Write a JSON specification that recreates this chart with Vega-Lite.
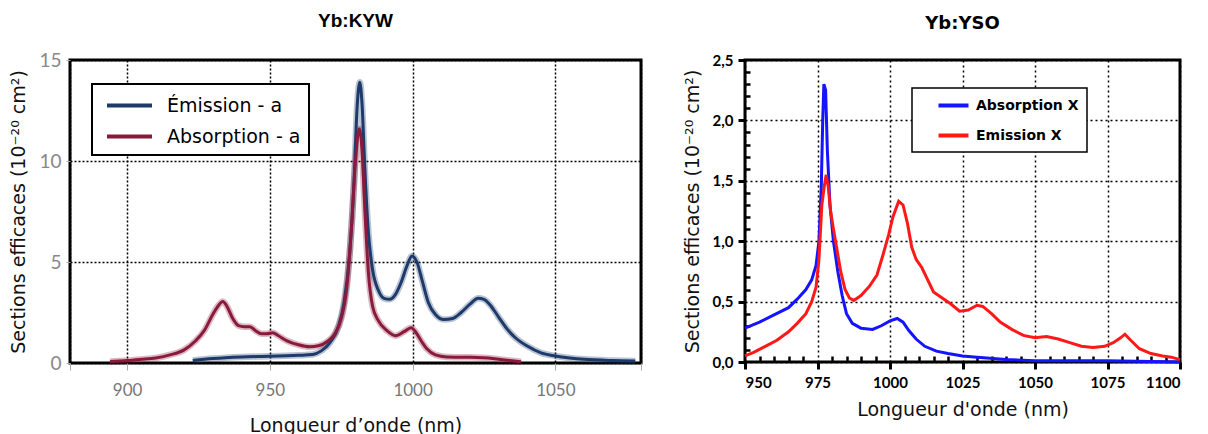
{
  "$schema": "https://vega.github.io/schema/vega-lite/v6.json",
  "padding": {"left": 8, "top": 10, "right": 4, "bottom": 0},
  "background": "white",
  "config": {
    "font": "Lato",
    "view": {"stroke": "black", "strokeWidth": 3},
    "axis": {"domain": false}
  },
  "spacing": 31,
  "resolve": {"scale": {"color": "independent"}, "legend": {"color": "independent"}},
  "datasets": {
    "kyw": [
      {"nm": 923, "v": 0.12, "s": "Émission - a"},
      {"nm": 930, "v": 0.22, "s": "Émission - a"},
      {"nm": 940, "v": 0.3, "s": "Émission - a"},
      {"nm": 950, "v": 0.33, "s": "Émission - a"},
      {"nm": 960, "v": 0.38, "s": "Émission - a"},
      {"nm": 965, "v": 0.42, "s": "Émission - a"},
      {"nm": 968, "v": 0.6, "s": "Émission - a"},
      {"nm": 971, "v": 1.0, "s": "Émission - a"},
      {"nm": 974, "v": 1.8, "s": "Émission - a"},
      {"nm": 976, "v": 3.0, "s": "Émission - a"},
      {"nm": 978, "v": 5.5, "s": "Émission - a"},
      {"nm": 979.5, "v": 9.0, "s": "Émission - a"},
      {"nm": 980.5, "v": 12.5, "s": "Émission - a"},
      {"nm": 981.5, "v": 13.9, "s": "Émission - a"},
      {"nm": 982.3, "v": 12.8, "s": "Émission - a"},
      {"nm": 983.3, "v": 9.5, "s": "Émission - a"},
      {"nm": 984.5, "v": 6.5, "s": "Émission - a"},
      {"nm": 986, "v": 4.6, "s": "Émission - a"},
      {"nm": 988, "v": 3.6, "s": "Émission - a"},
      {"nm": 990, "v": 3.2, "s": "Émission - a"},
      {"nm": 992, "v": 3.15, "s": "Émission - a"},
      {"nm": 994, "v": 3.4, "s": "Émission - a"},
      {"nm": 996, "v": 4.0, "s": "Émission - a"},
      {"nm": 998, "v": 4.8, "s": "Émission - a"},
      {"nm": 999.8, "v": 5.3, "s": "Émission - a"},
      {"nm": 1001.5, "v": 5.0, "s": "Émission - a"},
      {"nm": 1003.5, "v": 4.0, "s": "Émission - a"},
      {"nm": 1005.5, "v": 3.0, "s": "Émission - a"},
      {"nm": 1008, "v": 2.4, "s": "Émission - a"},
      {"nm": 1011, "v": 2.15, "s": "Émission - a"},
      {"nm": 1014, "v": 2.2, "s": "Émission - a"},
      {"nm": 1017, "v": 2.5, "s": "Émission - a"},
      {"nm": 1020, "v": 2.9, "s": "Émission - a"},
      {"nm": 1023, "v": 3.2, "s": "Émission - a"},
      {"nm": 1025, "v": 3.15, "s": "Émission - a"},
      {"nm": 1027, "v": 2.9, "s": "Émission - a"},
      {"nm": 1030, "v": 2.3, "s": "Émission - a"},
      {"nm": 1033, "v": 1.7, "s": "Émission - a"},
      {"nm": 1036, "v": 1.25, "s": "Émission - a"},
      {"nm": 1040, "v": 0.85, "s": "Émission - a"},
      {"nm": 1045, "v": 0.5, "s": "Émission - a"},
      {"nm": 1050, "v": 0.35, "s": "Émission - a"},
      {"nm": 1055, "v": 0.25, "s": "Émission - a"},
      {"nm": 1060, "v": 0.18, "s": "Émission - a"},
      {"nm": 1070, "v": 0.12, "s": "Émission - a"},
      {"nm": 1078, "v": 0.1, "s": "Émission - a"},
      {"nm": 894, "v": 0.08, "s": "Absorption - a"},
      {"nm": 900, "v": 0.12, "s": "Absorption - a"},
      {"nm": 905, "v": 0.18, "s": "Absorption - a"},
      {"nm": 910, "v": 0.25, "s": "Absorption - a"},
      {"nm": 915, "v": 0.4, "s": "Absorption - a"},
      {"nm": 920, "v": 0.65, "s": "Absorption - a"},
      {"nm": 924, "v": 1.1, "s": "Absorption - a"},
      {"nm": 927, "v": 1.6, "s": "Absorption - a"},
      {"nm": 930, "v": 2.4, "s": "Absorption - a"},
      {"nm": 932, "v": 2.85, "s": "Absorption - a"},
      {"nm": 933.5, "v": 3.05, "s": "Absorption - a"},
      {"nm": 935, "v": 2.8, "s": "Absorption - a"},
      {"nm": 937, "v": 2.2, "s": "Absorption - a"},
      {"nm": 939, "v": 1.85, "s": "Absorption - a"},
      {"nm": 941, "v": 1.8, "s": "Absorption - a"},
      {"nm": 943, "v": 1.8, "s": "Absorption - a"},
      {"nm": 945, "v": 1.6, "s": "Absorption - a"},
      {"nm": 947, "v": 1.45, "s": "Absorption - a"},
      {"nm": 949, "v": 1.45, "s": "Absorption - a"},
      {"nm": 951, "v": 1.5, "s": "Absorption - a"},
      {"nm": 953, "v": 1.35, "s": "Absorption - a"},
      {"nm": 956, "v": 1.1, "s": "Absorption - a"},
      {"nm": 960, "v": 0.9, "s": "Absorption - a"},
      {"nm": 964, "v": 0.8, "s": "Absorption - a"},
      {"nm": 967, "v": 0.85, "s": "Absorption - a"},
      {"nm": 970, "v": 1.05, "s": "Absorption - a"},
      {"nm": 973, "v": 1.5, "s": "Absorption - a"},
      {"nm": 975, "v": 2.2, "s": "Absorption - a"},
      {"nm": 977, "v": 3.8, "s": "Absorption - a"},
      {"nm": 978.5, "v": 6.5, "s": "Absorption - a"},
      {"nm": 980, "v": 10.0, "s": "Absorption - a"},
      {"nm": 981.3, "v": 11.6, "s": "Absorption - a"},
      {"nm": 982.3, "v": 10.5, "s": "Absorption - a"},
      {"nm": 983.3, "v": 7.5, "s": "Absorption - a"},
      {"nm": 984.5, "v": 4.5, "s": "Absorption - a"},
      {"nm": 986, "v": 2.8, "s": "Absorption - a"},
      {"nm": 988, "v": 2.1, "s": "Absorption - a"},
      {"nm": 991, "v": 1.6, "s": "Absorption - a"},
      {"nm": 994, "v": 1.35, "s": "Absorption - a"},
      {"nm": 997, "v": 1.55, "s": "Absorption - a"},
      {"nm": 999.5, "v": 1.75, "s": "Absorption - a"},
      {"nm": 1001, "v": 1.55, "s": "Absorption - a"},
      {"nm": 1003, "v": 1.1, "s": "Absorption - a"},
      {"nm": 1005, "v": 0.7, "s": "Absorption - a"},
      {"nm": 1008, "v": 0.4, "s": "Absorption - a"},
      {"nm": 1012, "v": 0.3, "s": "Absorption - a"},
      {"nm": 1020, "v": 0.28, "s": "Absorption - a"},
      {"nm": 1028, "v": 0.22, "s": "Absorption - a"},
      {"nm": 1034, "v": 0.12, "s": "Absorption - a"},
      {"nm": 1038, "v": 0.06, "s": "Absorption - a"}
    ],
    "yso": [
      {"nm": 950, "v": 0.28, "s": "Absorption X"},
      {"nm": 955, "v": 0.33, "s": "Absorption X"},
      {"nm": 960, "v": 0.39, "s": "Absorption X"},
      {"nm": 965, "v": 0.45, "s": "Absorption X"},
      {"nm": 968, "v": 0.52, "s": "Absorption X"},
      {"nm": 971, "v": 0.6, "s": "Absorption X"},
      {"nm": 973, "v": 0.68, "s": "Absorption X"},
      {"nm": 974.5, "v": 0.8, "s": "Absorption X"},
      {"nm": 975.5, "v": 1.0, "s": "Absorption X"},
      {"nm": 976.3, "v": 1.45, "s": "Absorption X"},
      {"nm": 976.8, "v": 2.0, "s": "Absorption X"},
      {"nm": 977.2, "v": 2.3, "s": "Absorption X"},
      {"nm": 977.8, "v": 2.25, "s": "Absorption X"},
      {"nm": 978.4, "v": 1.75, "s": "Absorption X"},
      {"nm": 979.3, "v": 1.3, "s": "Absorption X"},
      {"nm": 980.5, "v": 1.0, "s": "Absorption X"},
      {"nm": 982, "v": 0.75, "s": "Absorption X"},
      {"nm": 983.5, "v": 0.55, "s": "Absorption X"},
      {"nm": 985, "v": 0.4, "s": "Absorption X"},
      {"nm": 987, "v": 0.32, "s": "Absorption X"},
      {"nm": 990, "v": 0.28, "s": "Absorption X"},
      {"nm": 994, "v": 0.27, "s": "Absorption X"},
      {"nm": 997, "v": 0.3, "s": "Absorption X"},
      {"nm": 1000, "v": 0.34, "s": "Absorption X"},
      {"nm": 1002.5, "v": 0.36, "s": "Absorption X"},
      {"nm": 1004.5, "v": 0.33, "s": "Absorption X"},
      {"nm": 1006.5, "v": 0.26, "s": "Absorption X"},
      {"nm": 1009, "v": 0.19, "s": "Absorption X"},
      {"nm": 1012, "v": 0.13, "s": "Absorption X"},
      {"nm": 1016, "v": 0.09, "s": "Absorption X"},
      {"nm": 1020, "v": 0.07, "s": "Absorption X"},
      {"nm": 1025, "v": 0.05, "s": "Absorption X"},
      {"nm": 1030, "v": 0.04, "s": "Absorption X"},
      {"nm": 1040, "v": 0.02, "s": "Absorption X"},
      {"nm": 1050, "v": 0.01, "s": "Absorption X"},
      {"nm": 1075, "v": 0.01, "s": "Absorption X"},
      {"nm": 1100, "v": 0.0, "s": "Absorption X"},
      {"nm": 950, "v": 0.05, "s": "Emission X"},
      {"nm": 953, "v": 0.08, "s": "Emission X"},
      {"nm": 957, "v": 0.13, "s": "Emission X"},
      {"nm": 961, "v": 0.18, "s": "Emission X"},
      {"nm": 965, "v": 0.25, "s": "Emission X"},
      {"nm": 968, "v": 0.32, "s": "Emission X"},
      {"nm": 971, "v": 0.4, "s": "Emission X"},
      {"nm": 973, "v": 0.5, "s": "Emission X"},
      {"nm": 974.5, "v": 0.62, "s": "Emission X"},
      {"nm": 975.5, "v": 0.85, "s": "Emission X"},
      {"nm": 976.5, "v": 1.3, "s": "Emission X"},
      {"nm": 977.3, "v": 1.45, "s": "Emission X"},
      {"nm": 978, "v": 1.55, "s": "Emission X"},
      {"nm": 978.7, "v": 1.45, "s": "Emission X"},
      {"nm": 979.5, "v": 1.25, "s": "Emission X"},
      {"nm": 980.5, "v": 1.1, "s": "Emission X"},
      {"nm": 981.5, "v": 0.96, "s": "Emission X"},
      {"nm": 983, "v": 0.75, "s": "Emission X"},
      {"nm": 984.5, "v": 0.6, "s": "Emission X"},
      {"nm": 986, "v": 0.53, "s": "Emission X"},
      {"nm": 987.5, "v": 0.51, "s": "Emission X"},
      {"nm": 990, "v": 0.55, "s": "Emission X"},
      {"nm": 993, "v": 0.63, "s": "Emission X"},
      {"nm": 995.5, "v": 0.72, "s": "Emission X"},
      {"nm": 997.5, "v": 0.88, "s": "Emission X"},
      {"nm": 999.5, "v": 1.05, "s": "Emission X"},
      {"nm": 1001, "v": 1.2, "s": "Emission X"},
      {"nm": 1003, "v": 1.33, "s": "Emission X"},
      {"nm": 1004.5, "v": 1.3, "s": "Emission X"},
      {"nm": 1006, "v": 1.15, "s": "Emission X"},
      {"nm": 1007.5, "v": 0.95, "s": "Emission X"},
      {"nm": 1009, "v": 0.85, "s": "Emission X"},
      {"nm": 1011, "v": 0.78, "s": "Emission X"},
      {"nm": 1013, "v": 0.68, "s": "Emission X"},
      {"nm": 1015, "v": 0.58, "s": "Emission X"},
      {"nm": 1018, "v": 0.53, "s": "Emission X"},
      {"nm": 1021, "v": 0.48, "s": "Emission X"},
      {"nm": 1024, "v": 0.42, "s": "Emission X"},
      {"nm": 1027, "v": 0.43, "s": "Emission X"},
      {"nm": 1030, "v": 0.47, "s": "Emission X"},
      {"nm": 1032, "v": 0.46, "s": "Emission X"},
      {"nm": 1035, "v": 0.4, "s": "Emission X"},
      {"nm": 1038, "v": 0.33, "s": "Emission X"},
      {"nm": 1042, "v": 0.27, "s": "Emission X"},
      {"nm": 1046, "v": 0.22, "s": "Emission X"},
      {"nm": 1050, "v": 0.2, "s": "Emission X"},
      {"nm": 1054, "v": 0.21, "s": "Emission X"},
      {"nm": 1058, "v": 0.19, "s": "Emission X"},
      {"nm": 1062, "v": 0.16, "s": "Emission X"},
      {"nm": 1066, "v": 0.13, "s": "Emission X"},
      {"nm": 1070, "v": 0.12, "s": "Emission X"},
      {"nm": 1074, "v": 0.13, "s": "Emission X"},
      {"nm": 1077, "v": 0.16, "s": "Emission X"},
      {"nm": 1079.5, "v": 0.2, "s": "Emission X"},
      {"nm": 1081, "v": 0.23, "s": "Emission X"},
      {"nm": 1083, "v": 0.18, "s": "Emission X"},
      {"nm": 1086, "v": 0.11, "s": "Emission X"},
      {"nm": 1090, "v": 0.07, "s": "Emission X"},
      {"nm": 1094, "v": 0.05, "s": "Emission X"},
      {"nm": 1097, "v": 0.04, "s": "Emission X"},
      {"nm": 1100, "v": 0.02, "s": "Emission X"}
    ]
  },
  "hconcat": [
    {
      "width": 571,
      "height": 303,
      "title": {"text": "Yb:KYW", "font": "Liberation Sans", "fontSize": 19, "fontWeight": "bold", "color": "#000", "offset": 20},
      "data": {"name": "kyw"},
      "encoding": {
        "x": {
          "field": "nm", "type": "quantitative",
          "scale": {"domain": [880, 1080], "nice": false, "zero": false},
          "axis": {
            "values": [880, 900, 950, 1000, 1050, 1080],
            "format": "d",
            "labelExpr": "datum.value == 880 || datum.value == 1080 ? '' : datum.label",
            "grid": true, "gridColor": "#000", "gridDash": [2, 2], "gridWidth": 1.5,
            "labelColor": "#777", "labelFontSize": 17, "labelPadding": 12,
            "tickColor": "#aaa", "tickSize": 7,
            "title": "Longueur d’onde (nm)", "titleFont": "DejaVu Sans", "titleFontSize": 19, "titleFontWeight": "normal", "titleColor": "#111", "titlePadding": 18
          }
        },
        "y": {
          "field": "v", "type": "quantitative",
          "scale": {"domain": [0, 15], "nice": false},
          "axis": {
            "values": [0, 5, 10, 15],
            "grid": true, "gridColor": "#000", "gridDash": [2, 2], "gridWidth": 1.5,
            "labelColor": "#888", "labelFontSize": 19, "labelPadding": 5,
            "tickColor": "#aaa", "tickSize": 4,
            "title": "Sections efficaces (10⁻²⁰ cm²)", "titleFont": "DejaVu Sans", "titleFontSize": 19, "titleFontWeight": "normal", "titleColor": "#111", "titlePadding": 10
          }
        },
        "color": {
          "field": "s", "type": "nominal",
          "scale": {"domain": ["Émission - a", "Absorption - a"], "range": ["#1d3a6a", "#8a1a3c"]},
          "legend": {
            "orient": "none", "legendX": 22, "legendY": 24, "title": null,
            "fillColor": "white", "strokeColor": "black", "padding": 8,
            "symbolType": "M-2,0L2,0", "symbolSize": 506, "symbolStrokeWidth": 4, "symbolOffset": 16, "symbolOpacity": 1,
            "labelFont": "DejaVu Sans", "labelFontSize": 19, "labelFontWeight": "normal", "labelColor": "#000", "labelOffset": 24, "rowPadding": 7,
            "encode": {
              "legend": {"update": {"strokeWidth": {"value": 2}}},
              "symbols": {
                "enter": {"stroke": {"signal": "datum.label === 'Émission - a' ? '#3a3fd0' : '#d2471a'"}},
                "update": {"stroke": {"signal": "datum.label === 'Émission - a' ? '#3a3fd0' : '#d2471a'"}, "opacity": {"value": 1}}
              }
            }
          }
        }
      },
      "layer": [
        {
          "mark": {"type": "line", "strokeWidth": 6.5, "opacity": 0.3, "interpolate": "monotone"}
        },
        {
          "mark": {"type": "line", "strokeWidth": 3, "interpolate": "monotone"}
        }
      ]
    },
    {
      "width": 435,
      "height": 302,
      "title": {"text": "Yb:YSO", "font": "DejaVu Sans", "fontSize": 18, "fontWeight": "bold", "color": "#000", "offset": 20},
      "data": {"name": "yso"},
      "resolve": {"axis": {"x": "independent", "y": "independent"}},
      "layer": [
        {
          "mark": {"type": "line", "strokeWidth": 3, "interpolate": "linear"},
          "encoding": {
            "x": {
              "field": "nm", "type": "quantitative",
              "scale": {"domain": [950, 1100], "nice": false, "zero": false},
              "axis": {
                "orient": "bottom",
                "values": [950, 975, 1000, 1025, 1050, 1075, 1100],
                "format": "d",
                "grid": true, "gridColor": "#000", "gridDash": [2, 3], "gridWidth": 1.5,
                "labelColor": "#000", "labelFontSize": 15, "labelFontWeight": "bold", "labelPadding": 6,
                "tickColor": "#000", "tickSize": 7, "tickWidth": 3,
                "title": "Longueur d'onde (nm)", "titleFont": "DejaVu Sans", "titleFontSize": 19, "titleFontWeight": "normal", "titleColor": "#111", "titlePadding": 10
              }
            },
            "y": {
              "field": "v", "type": "quantitative",
              "scale": {"domain": [0, 2.5], "nice": false},
              "axis": {
                "orient": "left",
                "values": [0, 0.5, 1, 1.5, 2, 2.5],
                "labelExpr": "replace(format(datum.value, '.1f'), '.', ',')",
                "grid": true, "gridColor": "#000", "gridDash": [2, 3], "gridWidth": 1.5,
                "labelColor": "#000", "labelFontSize": 15, "labelFontWeight": "bold", "labelPadding": 5,
                "tickColor": "#000", "tickSize": 7, "tickWidth": 3,
                "title": "Sections efficaces (10⁻²⁰ cm²)", "titleFont": "DejaVu Sans", "titleFontSize": 19, "titleFontWeight": "normal", "titleColor": "#111", "titlePadding": 10
              }
            },
            "color": {
              "field": "s", "type": "nominal",
              "scale": {"domain": ["Absorption X", "Emission X"], "range": ["#1414ff", "#ff1818"]},
              "legend": {
                "orient": "none", "legendX": 167, "legendY": 28, "title": null,
                "fillColor": "white", "strokeColor": "black", "padding": 8,
                "symbolType": "M-2,0L2,0", "symbolSize": 225, "symbolStrokeWidth": 4, "symbolOffset": 24,
                "labelFont": "DejaVu Sans", "labelFontSize": 14, "labelFontWeight": "bold", "labelColor": "#000", "labelOffset": 13, "rowPadding": 12,
                "encode": {"legend": {"update": {"strokeWidth": {"value": 1.5}}}}
              }
            }
          }
        },
        {
          "mark": {"type": "line", "opacity": 0},
          "encoding": {
            "x": {
              "field": "nm", "type": "quantitative",
              "axis": {
                "orient": "bottom",
                "values": [955, 960, 965, 970, 980, 985, 990, 995, 1005, 1010, 1015, 1020, 1030, 1035, 1040, 1045, 1055, 1060, 1065, 1070, 1080, 1085, 1090, 1095],
                "labels": false, "grid": false, "domain": false, "title": null,
                "tickColor": "#000", "tickSize": -6, "tickWidth": 2.5
              }
            },
            "y": {
              "field": "v", "type": "quantitative",
              "axis": {
                "orient": "left",
                "values": [0.1, 0.2, 0.3, 0.4, 0.6, 0.7, 0.8, 0.9, 1.1, 1.2, 1.3, 1.4, 1.6, 1.7, 1.8, 1.9, 2.1, 2.2, 2.3, 2.4],
                "labels": false, "grid": false, "domain": false, "title": null,
                "tickColor": "#000", "tickSize": -5, "tickWidth": 2.5
              }
            }
          }
        }
      ]
    }
  ]
}
